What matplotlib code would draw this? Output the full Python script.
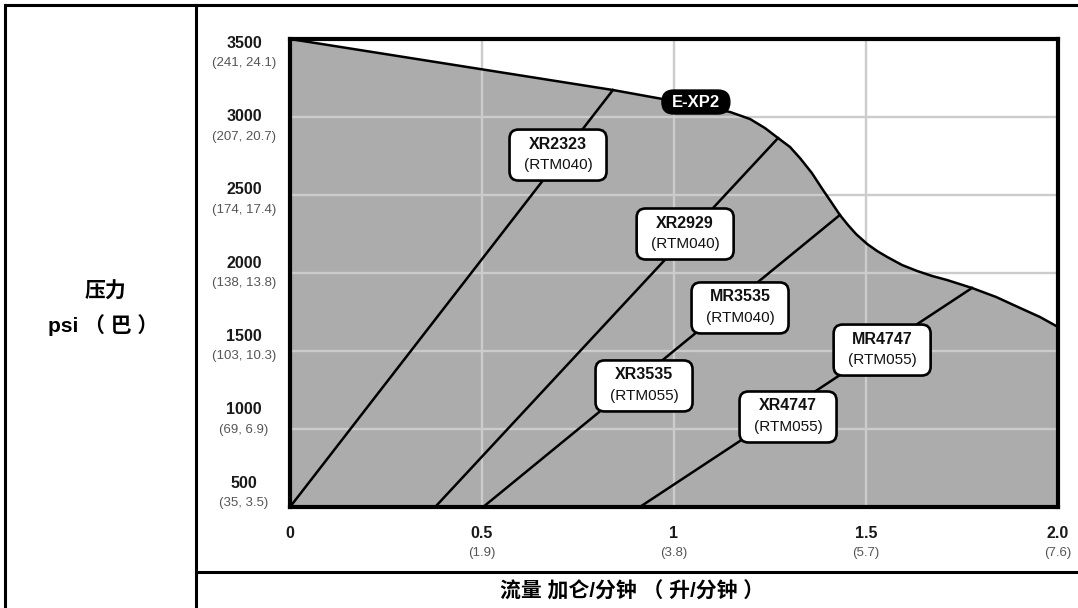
import matplotlib
matplotlib.use('Agg')
import numpy as np
import matplotlib.pyplot as plt
from matplotlib.patches import FancyBboxPatch
from matplotlib.transforms import IdentityTransform
from matplotlib.lines import Line2D

# ---------------- data ----------------
# E-XP2 operating envelope (flow gpm, pressure psi)
envelope_gpm = [0.0, 0.841, 0.971, 1.057, 1.146, 1.198, 1.237, 1.271, 1.302, 1.328,
                1.359, 1.388, 1.411, 1.432, 1.453, 1.474, 1.503, 1.529, 1.555, 1.594,
                1.633, 1.672, 1.711, 1.776, 1.839, 1.901, 1.953, 2.0]
envelope_psi = [3500, 3173, 3115, 3077, 3032, 2987, 2929, 2865, 2808, 2737,
                2641, 2532, 2449, 2372, 2308, 2250, 2186, 2141, 2103, 2051,
                2013, 1981, 1955, 1904, 1846, 1776, 1718, 1654]

# pump performance lines
pump_start_gpm = [0.0, 0.378, 0.503, 0.911]
pump_start_psi = [500, 500, 500, 500]
pump_end_gpm = [0.841, 1.271, 1.432, 1.776]
pump_end_psi = [3173, 2865, 2372, 1904]

# label boxes
label_models = ['XR2323', 'XR2929', 'MR3535', 'XR3535', 'XR4747', 'MR4747']
label_motors = ['(RTM040)', '(RTM040)', '(RTM040)', '(RTM055)', '(RTM055)', '(RTM055)']
label_gpm = [0.698, 1.029, 1.172, 0.922, 1.297, 1.542]
label_psi = [2756, 2250, 1776, 1276, 1077, 1506]

envelope_name = 'E-XP2'
envelope_label_gpm = 1.057
envelope_label_psi = 3096

# axis ticks
psi_ticks = [500, 1000, 1500, 2000, 2500, 3000, 3500]
psi_tick_labels = ['500', '1000', '1500', '2000', '2500', '3000', '3500']
bar_mpa_labels = ['(35, 3.5)', '(69, 6.9)', '(103, 10.3)', '(138, 13.8)',
                  '(174, 17.4)', '(207, 20.7)', '(241, 24.1)']
gpm_ticks = [0, 0.5, 1, 1.5, 2.0]
gpm_tick_labels = ['0', '0.5', '1', '1.5', '2.0']
lpm_labels = ['', '(1.9)', '(3.8)', '(5.7)', '(7.6)']

y_title_1 = '压力'
y_title_2 = 'psi （ 巴 ）'
x_title = '流量 加仑/分钟 （ 升/分钟 ）'

# ---------------- figure ----------------
W, H = 1078, 608
fig = plt.figure(figsize=(W / 100, H / 100), dpi=100)
fig.patch.set_facecolor('white')
ax = fig.add_axes([290 / W, 101 / H, 768 / W, 468 / H])
ax.set_xlim(0, 2.0)
ax.set_ylim(500, 3500)
ax.set_xticks([])
ax.set_yticks([])
for s in ax.spines.values():
    s.set_linewidth(3.0)
    s.set_color('black')
    s.set_zorder(10)

NUM = ['Liberation Sans', 'DejaVu Sans']
CJK = ['Liberation Sans', 'Noto Sans CJK SC', 'DejaVu Sans']

# fill envelope
ax.fill_between(envelope_gpm, 500, envelope_psi, color='#acacac', lw=0, zorder=1)
# grid
for v in gpm_ticks[1:-1]:
    ax.axvline(v, color='#cccccc', lw=1.7, zorder=2)
for v in psi_ticks[1:-1]:
    ax.axhline(v, color='#cccccc', lw=1.7, zorder=2)
# envelope outline
ax.plot(envelope_gpm, envelope_psi, color='black', lw=1.8, zorder=4,
        solid_joinstyle='round')
# pump lines
for x0, y0, x1, y1 in zip(pump_start_gpm, pump_start_psi, pump_end_gpm, pump_end_psi):
    ax.plot([x0, x1], [y0, y1], color='black', lw=1.8, zorder=4)

# label boxes
bw, bh = 97, 51
for m, mo, gx, gy in zip(label_models, label_motors, label_gpm, label_psi):
    cx, cy = ax.transData.transform((gx, gy))
    p = FancyBboxPatch((cx - bw / 2, cy - bh / 2), bw, bh,
                       boxstyle='round,pad=0,rounding_size=9',
                       transform=IdentityTransform(), facecolor='white',
                       edgecolor='black', lw=1.9, zorder=6, clip_on=False)
    ax.add_patch(p)
    ax.annotate(m, (gx, gy), xytext=(0, 11), textcoords='offset pixels',
                ha='center', va='center', fontsize=11.5, family=NUM,
                fontweight='bold', color='#111111', zorder=7)
    ax.annotate(mo, (gx, gy), xytext=(0, -10), textcoords='offset pixels',
                ha='center', va='center', fontsize=11, family=NUM,
                color='#111111', zorder=7)

# E-XP2 badge
cx, cy = ax.transData.transform((envelope_label_gpm, envelope_label_psi))
pw, ph = 68, 24
ax.add_patch(FancyBboxPatch((cx - pw / 2, cy - ph / 2), pw, ph,
                            boxstyle='round,pad=0,rounding_size=12',
                            transform=IdentityTransform(), facecolor='black',
                            edgecolor='black', lw=1, zorder=8, clip_on=False))
ax.annotate(envelope_name, (envelope_label_gpm, envelope_label_psi),
            xytext=(0, 0), textcoords='offset pixels', ha='center', va='center',
            fontsize=12, family=NUM, fontweight='bold', color='white', zorder=9)

# y tick labels (evenly stacked beside the axis)
n = len(psi_ticks)
for i, (lab, sub) in enumerate(zip(psi_tick_labels, bar_mpa_labels)):
    frac = 0.051 + i * (0.991 - 0.051) / (n - 1)
    ax.annotate(lab, (0, frac), xycoords='axes fraction', xytext=(-46, 0),
                textcoords='offset pixels', ha='center', va='center',
                fontsize=11.5, family=NUM, fontweight='bold', color='#1a1a1a')
    ax.annotate(sub, (0, frac), xycoords='axes fraction', xytext=(-46, -20),
                textcoords='offset pixels', ha='center', va='center',
                fontsize=9.5, family=NUM, color='#555555')

# x tick labels
for v, lab, sub in zip(gpm_ticks, gpm_tick_labels, lpm_labels):
    ax.annotate(lab, (v, 0), xycoords=('data', 'axes fraction'), xytext=(0, -27),
                textcoords='offset pixels', ha='center', va='center',
                fontsize=11.5, family=NUM, fontweight='bold', color='#1a1a1a')
    if sub:
        ax.annotate(sub, (v, 0), xycoords=('data', 'axes fraction'), xytext=(0, -46),
                    textcoords='offset pixels', ha='center', va='center',
                    fontsize=9.5, family=NUM, color='#555555')

# titles
fig.text(105 / W, 1 - 292 / H, y_title_1, ha='center', va='center',
         fontsize=15, family=CJK, fontweight='bold')
fig.text(103 / W, 1 - 325 / H, y_title_2, ha='center', va='center',
         fontsize=15, family=CJK, fontweight='bold')
fig.text(632 / W, 1 - 591 / H, x_title, ha='center', va='center',
         fontsize=15, family=CJK, fontweight='bold')

# outer frame and dividers (pixel coordinates)
def fl(xs, ys, lw=2.2):
    fig.add_artist(Line2D([x / W for x in xs], [1 - y / H for y in ys],
                          transform=fig.transFigure, color='black', lw=lw,
                          solid_capstyle='projecting'))

fl([5, 5], [5, 610])
fl([5, 1080], [5, 5])
fl([196, 196], [5, 610])
fl([196, 1080], [572, 572])

fig.savefig('out.png', dpi=100, facecolor='white')
